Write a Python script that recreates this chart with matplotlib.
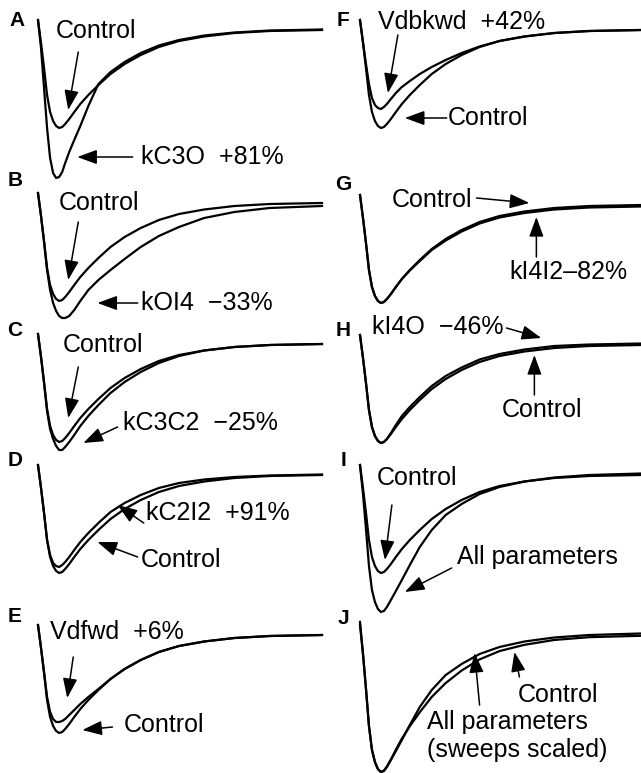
import matplotlib.pyplot as plt

plt.rcParams['font.family'] = ['Liberation Sans', 'DejaVu Sans']

# sweep time (ms) and simulated currents (pA); control peak = -100
t_ms = [0, 3, 6, 9, 12, 15, 18, 21, 24, 27, 31, 36, 42, 50, 60, 72, 86, 102, 120, 140, 165, 195, 230, 282]
control = [8, -15, -40, -67, -84, -93, -98, -100, -99, -96, -91, -84, -76, -67, -57, -46, -36, -27, -19, -13, -8.5, -5, -3, -2]
kC3O = [8, -20, -60, -100, -130, -145, -150, -149, -144, -135, -124, -112, -98, -78, -56, -44, -34, -25, -17.5, -12, -7.5, -4.5, -2.5, -1.5]
kOI4 = [8, -15, -41, -69, -89, -102, -110, -115, -117, -117, -115, -109, -100, -89, -79, -69, -58, -46, -35, -26, -17, -11, -7, -5]
kC3C2 = [8, -15, -41, -69, -87, -97, -104, -108, -108, -105, -100, -93, -84, -74, -63, -51, -40, -30, -21, -14, -8.5, -5, -3, -2]
kC2I2 = [8, -15, -40, -67, -82, -90, -93, -94, -92, -89, -84, -77, -69, -60, -50, -39, -30, -22, -15, -10, -6.5, -4, -2.5, -1.5]
Vdfwd = [8, -15, -39, -64, -79, -86, -89, -89, -88, -86, -82, -77, -71, -64, -56, -46, -36, -27, -19, -13, -8.5, -5, -3, -2]
Vdbkwd = [8, -14, -36, -56, -70, -77, -80, -81, -79, -76, -71, -65, -59, -53, -46, -39, -32, -25, -18.5, -13, -8.5, -5, -3, -2]
kI4I2 = [8, -15, -40, -67, -84, -93, -98, -100, -99, -96, -91, -84, -76, -67.5, -58, -47, -37.5, -28.5, -20.5, -14.5, -10, -6.5, -4.5, -3.5]
kI4O = [8, -15, -40, -67, -84, -93, -98, -100, -99, -96, -90, -82, -73, -64, -54, -43, -33, -24.5, -16.5, -11, -6.5, -3, -1.5, -0.5]
all_params = [8, -21, -56, -93, -117, -129, -136, -139, -138, -134, -127, -118, -107, -92, -74, -57, -42, -31, -21, -14, -8.5, -4.5, -2, -0.5]

# sweeps scaled to the same peak for panel J
scale = min(all_params) / min(control)
control_scaled = [v * scale for v in control]

W, H = 641, 773
fig = plt.figure(figsize=(W / 100, H / 100), dpi=100)


def panel(x0, width, base):
    ax = fig.add_axes([x0 / W, 1 - (base + 150) / H, width / W, 165 / H])
    ax.set_xlim(0, 282)
    ax.set_ylim(-150, 15)
    ax.axis('off')
    return ax


def arrow(ax, tail, tip):
    ax.annotate('', xy=tip, xytext=tail,
                arrowprops=dict(arrowstyle='-|>,head_length=0.6,head_width=0.22',
                                mutation_scale=20, lw=1.1, color='k',
                                shrinkA=0, shrinkB=0))


def label(ax, x, y, s, ha='left'):
    ax.text(x, y, s, fontsize=18, ha=ha, va='center', clip_on=False)


# letter, left px, width px, baseline px, traces, labels [(x, y, text, ha)], arrows [(tail, tip)]
panels = [
    ('A', 38, 284, 28, [control, kC3O],
     [(58, -3, 'Control', 'center'), (102, -129, 'kC3O  +81%', 'left')],
     [((40, -24), (30, -82)), ((94, -129), (39, -129))]),
    ('B', 38, 284, 201, [control, kOI4],
     [(61, -2, 'Control', 'center'), (102, -102, 'kOI4  \u221233%', 'left')],
     [((40, -21), (30, -79)), ((99, -102), (59, -102))]),
    ('C', 38, 284, 342, [control, kC3C2],
     [(65, -3, 'Control', 'center'), (84, -81, 'kC3C2  \u221225%', 'left')],
     [((40, -25), (30, -76)), ((79, -85), (45, -101))]),
    ('D', 38, 284, 473, [control, kC2I2],
     [(107, -40, 'kC2I2  +91%', 'left'), (102, -87, 'Control', 'left')],
     [((105, -50), (79, -32)), ((99, -84), (59, -69))]),
    ('E', 38, 284, 633, [control, Vdfwd],
     [(12, 1, 'Vdfwd  +6%', 'left'), (85, -92, 'Control', 'left')],
     [((35, -24), (29, -65)), ((74, -94), (44, -97))]),
    ('F', 360, 281, 28, [control, Vdbkwd],
     [(18, 6, 'Vdbkwd  +42%', 'left'), (88, -90, 'Control', 'left')],
     [((38, -7), (28, -65)), ((87, -90), (45, -90))]),
    ('G', 360, 281, 203, [control, kI4I2],
     [(32, 3, 'Control', 'left'), (150, -69, 'kI4I2\u201382%', 'left')],
     [((117, 5), (170, 0)), ((177, -54), (177, -14))]),
    ('H', 360, 281, 343, [control, kI4O],
     [(12, 16, 'kI4O  \u221246%', 'left'), (142, -67, 'Control', 'left')],
     [((147, 15), (182, 5)), ((175, -52), (175, -12))]),
    ('I', 360, 281, 473, [control, all_params],
     [(17, -5, 'Control', 'left'), (97, -84, 'All parameters', 'left')],
     [((32, -32), (25, -87)), ((92, -95), (45, -119))]),
    ('J', 360, 281, 633, [control_scaled, all_params],
     [(158, -62, 'Control', 'left'), (67, -89, 'All parameters', 'left'),
      (67, -117, '(sweeps scaled)', 'left')],
     [((160, -44), (155, -19)), ((120, -72), (115, -20))]),
]

letter_pos = {'A': (17, 20), 'B': (15, 181), 'C': (15, 330), 'D': (15, 461), 'E': (15, 616),
              'F': (343, 20), 'G': (343, 185), 'H': (343, 331), 'I': (343, 460), 'J': (343, 618)}

for letter, x0, width, base, traces, labels, arrows in panels:
    ax = panel(x0, width, base)
    for tr in traces:
        ax.plot(t_ms, tr, color='k', lw=1.6, solid_joinstyle='round', clip_on=False)
    for x, y, s, ha in labels:
        label(ax, x, y, s, ha)
    for tail, tip in arrows:
        arrow(ax, tail, tip)
    lx, ly = letter_pos[letter]
    fig.text(lx / W, 1 - ly / H, letter, fontsize=15, fontweight='bold',
             ha='center', va='center')

fig.savefig('out.png', dpi=100, facecolor='white')
